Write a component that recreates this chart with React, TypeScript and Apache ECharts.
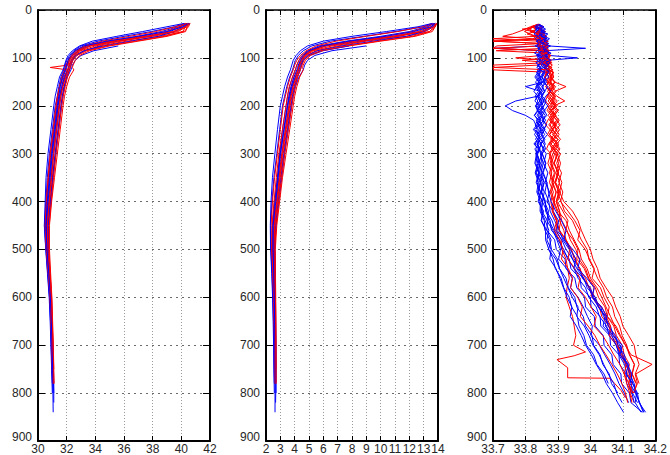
import React, { useEffect, useRef } from "react";
import * as echarts from "echarts";

const N = null;

// ---- Panels 1 & 2: shared depth grid ----
const depthGrid = [28, 35, 45, 55, 65, 75, 85, 95, 105, 115, 120, 125, 140, 160, 180, 200, 250, 300, 350, 400, 450, 500, 550, 600, 650, 700, 750, 780, 800, 820, 840];

const p1Blue: (number | null)[][] = [
  [40.5, 39.8, 38.6, 36.9, 35.0, 33.4, 32.7, 32.4, 32.2, 32.05, 32.0, 31.95, 31.75, 31.55, 31.4, 31.3, 31.1, 30.9, 30.75, 30.6, 30.5, 30.6, 30.72, 30.85, 30.9, 30.95, 31.0, 31.02, 31.04, 31.05, 31.06],
  [40.4, 40.0, 39.2, 37.8, 35.6, 33.6, 32.8, 32.5, 32.3, 32.2, 32.15, 32.1, 31.9, 31.7, 31.6, 31.5, 31.3, 31.1, 30.92, 30.76, 30.62, 30.68, 30.8, 30.9, 30.95, 31.0, 31.04, 31.05, N, N, N],
  [N, N, N, N, N, 35.6, 33.9, 33.0, 32.6, 32.4, 32.35, 32.3, 32.05, 31.8, 31.7, 31.6, 31.4, 31.2, 31.02, 30.86, 30.7, 30.74, 30.84, 30.94, 30.99, 31.04, 31.08, 31.1, 31.1, N, N],
  [40.3, 39.5, 37.9, 36.0, 34.2, 33.0, 32.5, 32.2, 32.0, 31.9, 31.85, 31.8, 31.6, 31.45, 31.35, 31.2, 31.0, 30.8, 30.65, 30.55, 30.45, 30.55, 30.68, 30.8, 30.87, 30.92, 30.97, 31.0, N, N, N],
  [40.6, 40.2, 39.5, 38.4, 36.5, 34.6, 33.2, 32.6, 32.4, 32.3, 32.25, 32.2, 32.0, 31.85, 31.75, 31.65, 31.45, 31.25, 31.05, 30.9, 30.72, 30.72, 30.8, 30.9, 30.96, 31.02, 31.06, 31.08, 31.1, 31.1, N],
  [N, N, N, N, N, 34.4, 33.3, 32.7, 32.4, 32.2, 32.15, 32.1, 31.85, 31.65, 31.5, 31.4, 31.2, 31.0, 30.85, 30.7, 30.58, 30.64, 30.75, 30.85, 30.92, 30.97, 31.0, 31.02, N, N, N],
  [40.2, 39.0, 37.3, 35.5, 33.8, 32.9, 32.4, 32.1, 31.95, 31.85, 31.8, 31.75, 31.5, 31.35, 31.2, 31.1, 30.9, 30.7, 30.56, 30.5, 30.44, 30.54, 30.66, 30.78, 30.85, 30.9, 30.95, 30.98, 31.0, N, N],
  [40.5, 40.1, 39.0, 37.0, 34.8, 33.2, 32.6, 32.3, 32.1, 32.0, 31.95, 31.9, 31.7, 31.55, 31.45, 31.35, 31.15, 30.95, 30.8, 30.65, 30.55, 30.62, 30.75, 30.86, 30.93, 30.98, 31.02, 31.04, N, N, N],
];

const p1Red: (number | null)[][] = [
  [40.6, 40.5, 40.2, 38.5, 36.2, 34.3, 33.2, 32.6, 32.4, 32.3, 32.25, 32.2, 32.0, 31.85, 31.7, 31.6, 31.4, 31.2, 31.0, 30.85, 30.7, 30.72, 30.82, 30.92, 30.98, 31.03, 31.08, 31.1, N, N, N],
  [40.5, 40.3, 39.8, 38.0, 35.4, 33.7, 32.9, 32.5, 32.3, 32.15, 32.1, 32.05, 31.8, 31.65, 31.5, 31.4, 31.2, 30.95, 30.8, 30.65, 30.55, 30.62, 30.75, 30.86, 30.93, 30.98, 31.02, 31.05, N, N, N],
  [40.4, 39.9, 38.9, 37.2, 35.2, 33.5, 32.8, 32.4, 32.2, 32.1, 30.85, 32.05, 31.9, 31.7, 31.55, 31.45, 31.25, 31.05, 30.9, 30.75, 30.62, 30.65, 30.78, 30.9, 30.96, 31.0, 31.04, 31.06, N, N, N],
  [40.5, 40.4, 40.3, 39.0, 37.0, 35.0, 33.6, 32.9, 32.6, 32.45, 32.4, 32.5, 32.2, 32.0, 31.85, 31.75, 31.55, 31.35, 31.15, 30.95, 30.8, 30.8, 30.88, 30.97, 31.02, 31.07, 31.1, N, N, N, N],
  [40.3, 39.6, 38.2, 36.4, 34.5, 33.2, 32.6, 32.3, 32.1, 31.95, 31.9, 31.85, 31.65, 31.5, 31.35, 31.25, 31.05, 30.85, 30.7, 30.58, 30.5, 30.58, 30.7, 30.82, 30.9, 30.95, 30.99, 31.02, N, N, N],
  [40.6, 40.4, 39.6, 37.6, 35.8, 34.0, 33.0, 32.55, 32.35, 32.2, 32.15, 32.1, 31.95, 31.75, 31.6, 31.5, 31.3, 31.1, 30.95, 30.8, 30.65, 30.68, 30.8, 30.9, 30.97, 31.02, 31.06, 31.08, N, N, N],
  [40.4, 40.2, 39.4, 37.5, 34.9, 33.3, 32.7, 32.35, 32.15, 32.0, 31.95, 31.9, 31.7, 31.52, 31.4, 31.3, 31.1, 30.9, 30.74, 30.6, 30.5, 30.58, 30.72, 30.84, 30.9, 30.96, 31.0, 31.03, N, N, N],
  [40.5, 40.3, 40.1, 38.8, 36.8, 34.8, 33.4, 32.7, 32.45, 32.3, 32.25, 32.2, 32.05, 31.9, 31.75, 31.65, 31.45, 31.25, 31.08, 30.92, 30.78, 30.76, 30.85, 30.95, 31.0, 31.05, 31.1, 31.12, N, N, N],
];

const p2Blue: (number | null)[][] = [
  [13.8, 13.2, 12.0, 10.0, 7.6, 5.7, 4.9, 4.5, 4.3, 4.15, 4.1, 4.05, 3.85, 3.65, 3.5, 3.4, 3.15, 2.95, 2.8, 2.62, 2.45, 2.45, 2.5, 2.55, 2.58, 2.6, 2.62, 2.63, 2.63, 2.63, 2.63],
  [13.8, 13.6, 12.8, 11.2, 8.6, 6.2, 5.1, 4.7, 4.5, 4.35, 4.3, 4.25, 4.05, 3.85, 3.7, 3.6, 3.35, 3.1, 2.9, 2.72, 2.55, 2.52, 2.56, 2.6, 2.62, 2.64, 2.66, 2.66, N, N, N],
  [N, N, N, N, N, 9.0, 6.6, 5.4, 4.9, 4.7, 4.65, 4.6, 4.3, 4.05, 3.9, 3.8, 3.55, 3.3, 3.1, 2.9, 2.7, 2.62, 2.64, 2.66, 2.68, 2.7, 2.7, 2.7, 2.7, N, N],
  [13.7, 13.0, 11.0, 8.8, 6.5, 5.2, 4.6, 4.25, 4.05, 3.95, 3.9, 3.85, 3.65, 3.45, 3.3, 3.15, 2.95, 2.75, 2.55, 2.42, 2.32, 2.35, 2.42, 2.48, 2.52, 2.55, 2.57, 2.58, N, N, N],
  [13.9, 13.7, 13.0, 11.8, 9.5, 7.3, 5.6, 4.9, 4.6, 4.5, 4.45, 4.4, 4.2, 4.0, 3.85, 3.75, 3.5, 3.25, 3.05, 2.85, 2.68, 2.6, 2.62, 2.64, 2.66, 2.67, 2.68, 2.68, 2.68, 2.67, N],
  [N, N, N, N, N, 7.8, 5.9, 5.0, 4.6, 4.4, 4.35, 4.3, 4.05, 3.8, 3.65, 3.5, 3.25, 3.0, 2.8, 2.6, 2.45, 2.45, 2.5, 2.55, 2.58, 2.6, 2.62, 2.62, N, N, N],
  [13.6, 12.6, 10.4, 8.0, 6.0, 4.9, 4.4, 4.1, 3.9, 3.8, 3.75, 3.7, 3.5, 3.3, 3.15, 3.0, 2.8, 2.62, 2.45, 2.35, 2.3, 2.32, 2.4, 2.46, 2.5, 2.53, 2.55, 2.57, 2.58, N, N],
  [13.8, 13.5, 12.3, 10.3, 7.8, 5.9, 5.0, 4.6, 4.4, 4.25, 4.2, 4.15, 3.95, 3.75, 3.6, 3.5, 3.25, 3.0, 2.85, 2.68, 2.5, 2.5, 2.54, 2.58, 2.6, 2.62, 2.64, 2.65, N, N, N],
];

const p2Red: (number | null)[][] = [
  [13.9, 13.8, 13.4, 11.8, 9.0, 7.0, 5.5, 4.8, 4.55, 4.45, 4.4, 4.35, 4.15, 3.95, 3.8, 3.7, 3.45, 3.2, 3.0, 2.8, 2.62, 2.56, 2.6, 2.63, 2.65, 2.67, 2.68, 2.68, N, N, N],
  [13.8, 13.7, 13.1, 11.2, 8.2, 6.2, 5.2, 4.7, 4.45, 4.3, 4.25, 4.2, 3.95, 3.75, 3.6, 3.5, 3.25, 3.0, 2.82, 2.65, 2.5, 2.48, 2.52, 2.57, 2.6, 2.62, 2.64, 2.65, N, N, N],
  [13.7, 13.3, 12.2, 10.4, 8.0, 6.0, 5.1, 4.65, 4.4, 4.3, 4.28, 4.25, 4.05, 3.85, 3.7, 3.6, 3.35, 3.1, 2.92, 2.74, 2.58, 2.54, 2.58, 2.62, 2.64, 2.66, 2.67, 2.67, N, N, N],
  [13.9, 13.8, 13.6, 12.4, 10.0, 7.8, 6.0, 5.1, 4.75, 4.6, 4.55, 4.6, 4.35, 4.15, 4.0, 3.9, 3.65, 3.4, 3.15, 2.95, 2.75, 2.65, 2.66, 2.68, 2.69, 2.7, 2.7, N, N, N, N],
  [13.6, 12.9, 11.2, 9.0, 6.9, 5.5, 4.8, 4.4, 4.15, 4.0, 3.95, 3.9, 3.7, 3.5, 3.35, 3.2, 3.0, 2.8, 2.6, 2.45, 2.35, 2.38, 2.45, 2.5, 2.54, 2.56, 2.58, 2.6, N, N, N],
  [13.9, 13.7, 12.9, 10.9, 8.8, 6.6, 5.3, 4.75, 4.5, 4.35, 4.3, 4.25, 4.1, 3.9, 3.75, 3.65, 3.4, 3.15, 2.97, 2.78, 2.6, 2.55, 2.58, 2.62, 2.64, 2.66, 2.67, 2.68, N, N, N],
  [13.8, 13.5, 12.6, 10.8, 7.9, 5.9, 5.0, 4.55, 4.3, 4.15, 4.1, 4.05, 3.85, 3.62, 3.5, 3.4, 3.15, 2.9, 2.72, 2.56, 2.42, 2.42, 2.48, 2.54, 2.57, 2.6, 2.62, 2.63, N, N, N],
  [13.9, 13.8, 13.4, 12.2, 9.8, 7.6, 5.8, 5.0, 4.65, 4.5, 4.45, 4.4, 4.2, 4.05, 3.9, 3.8, 3.55, 3.3, 3.08, 2.88, 2.7, 2.62, 2.64, 2.66, 2.68, 2.69, 2.7, 2.7, N, N, N],
];

// ---- Panel 3: salinity depth grid (top / mid / deep) ----
const salDepthTop = [30, 35, 40, 45, 50, 55, 60, 65, 70, 75, 80, 85, 90, 95, 100, 105, 110, 115, 120, 125, 130];
const salDepthMid = [140, 150, 160, 170, 180, 190, 200, 210, 220, 230, 240, 250, 260, 270, 280, 290, 300];
const salDepthDeep = [320, 340, 360, 380, 400, 420, 440, 460, 480, 500, 520, 540, 560, 580, 600, 620, 640, 660, 680, 700, 720, 740, 760, 780, 800, 820, 840];

const salBlueTop: (number | null)[][] = [
  [33.840, 33.845, 33.838, 33.852, 33.846, 33.858, 33.850, 33.862, 33.848, 33.840, 33.705, 33.852, 33.846, 33.858, 33.850, 33.855, 33.843, 33.850, 33.846, 33.852, 33.845],
  [33.838, 33.832, 33.845, 33.836, 33.850, 33.842, 33.856, 33.845, 33.860, 33.870, 33.985, 33.862, 33.855, 33.866, 33.858, 33.870, 33.860, 33.866, 33.855, 33.862, 33.856],
  [33.842, 33.850, 33.840, 33.860, 33.848, 33.866, 33.852, 33.870, 33.856, 33.866, 33.852, 33.872, 33.860, 33.875, 33.960, 33.868, 33.874, 33.860, 33.872, 33.864, 33.870],
  [33.836, 33.828, 33.836, 33.826, 33.838, 33.830, 33.842, 33.835, 33.845, 33.836, 33.848, 33.838, 33.846, 33.836, 33.844, 33.835, 33.845, 33.838, 33.846, 33.836, 33.842],
  [33.840, 33.848, 33.856, 33.846, 33.862, 33.852, 33.866, 33.856, 33.868, 33.858, 33.870, 33.860, 33.872, 33.862, 33.868, 33.858, 33.866, 33.856, 33.864, 33.855, 33.862],
  [33.840, 33.834, 33.842, 33.832, 33.844, 33.836, 33.848, 33.838, 33.850, 33.842, 33.852, 33.842, 33.850, 33.840, 33.852, 33.842, 33.850, 33.840, 33.848, 33.840, 33.846],
  [33.844, 33.838, 33.850, 33.842, 33.856, 33.845, 33.858, 33.848, 33.860, 33.850, 33.862, 33.850, 33.864, 33.852, 33.862, 33.850, 33.858, 33.848, 33.856, 33.846, 33.855],
  [33.839, 33.846, 33.831, 33.842, 33.853, 33.838, 33.829, 33.845, 33.851, 33.836, 33.844, 33.857, 33.840, 33.833, 33.848, 33.841, 33.852, 33.837, 33.843, 33.849, 33.834],
  [33.843, 33.851, 33.862, 33.848, 33.869, 33.858, 33.874, 33.861, 33.853, 33.877, 33.864, 33.858, 33.879, 33.866, 33.871, 33.859, 33.876, 33.868, 33.862, 33.874, 33.865],
  [33.841, 33.836, 33.847, 33.855, 33.842, 33.851, 33.863, 33.844, 33.857, 33.849, 33.838, 33.860, 33.852, 33.845, 33.856, 33.863, 33.849, 33.858, 33.851, 33.844, 33.859],
  [33.838, 33.829, 33.841, 33.835, 33.826, 33.839, 33.847, 33.833, 33.842, 33.830, 33.845, 33.836, 33.828, 33.843, 33.837, 33.849, 33.832, 33.841, 33.835, 33.846, 33.838],
  [33.842, 33.857, 33.846, 33.861, 33.853, 33.848, 33.865, 33.857, 33.872, 33.861, 33.855, 33.868, 33.874, 33.859, 33.866, 33.878, 33.862, 33.871, 33.858, 33.867, 33.873],
];
const salBlueMid: (number | null)[][] = [
  [33.842, 33.850, 33.838, 33.845, 33.838, 33.770, 33.738, 33.760, 33.800, 33.825, 33.832, 33.840, 33.835, 33.846, 33.838, 33.842, 33.835],
  [33.850, 33.858, 33.800, 33.846, 33.852, 33.844, 33.855, 33.846, 33.853, 33.842, 33.850, 33.845, 33.852, 33.840, 33.848, 33.843, 33.850],
  [33.858, 33.866, 33.852, 33.860, 33.848, 33.858, 33.846, 33.856, 33.845, 33.855, 33.846, 33.858, 33.850, 33.860, 33.848, 33.858, 33.852],
  [33.834, 33.842, 33.832, 33.840, 33.830, 33.838, 33.832, 33.840, 33.828, 33.838, 33.830, 33.836, 33.828, 33.838, 33.830, 33.836, 33.832],
  [33.852, 33.860, 33.850, 33.858, 33.848, 33.856, 33.850, 33.860, 33.852, 33.862, 33.852, 33.860, 33.848, 33.856, 33.846, 33.855, 33.846],
  [33.838, 33.846, 33.836, 33.845, 33.836, 33.844, 33.835, 33.845, 33.836, 33.846, 33.838, 33.848, 33.838, 33.846, 33.836, 33.845, 33.838],
  [33.845, 33.853, 33.843, 33.852, 33.842, 33.850, 33.840, 33.850, 33.840, 33.848, 33.838, 33.846, 33.836, 33.845, 33.835, 33.843, 33.836],
  [33.846, 33.831, 33.840, 33.852, 33.836, 33.829, 33.843, 33.838, 33.850, 33.833, 33.841, 33.828, 33.845, 33.837, 33.826, 33.842, 33.834],
  [33.871, 33.859, 33.867, 33.878, 33.862, 33.856, 33.869, 33.858, 33.866, 33.852, 33.864, 33.857, 33.868, 33.855, 33.861, 33.853, 33.864],
  [33.849, 33.841, 33.855, 33.847, 33.839, 33.852, 33.844, 33.836, 33.849, 33.857, 33.842, 33.851, 33.843, 33.838, 33.850, 33.841, 33.847],
  [33.829, 33.840, 33.834, 33.826, 33.838, 33.845, 33.831, 33.837, 33.827, 33.842, 33.835, 33.824, 33.839, 33.831, 33.843, 33.829, 33.836],
  [33.862, 33.855, 33.868, 33.859, 33.852, 33.864, 33.857, 33.849, 33.861, 33.854, 33.866, 33.851, 33.859, 33.847, 33.857, 33.862, 33.851],
];
const salBlueDeep: (number | null)[][] = [
  [33.846, 33.834, 33.848, 33.838, 33.852, 33.850, 33.868, 33.866, 33.890, 33.895, 33.922, 33.925, 33.952, 33.958, 33.982, 33.985, 34.012, 34.015, 34.040, 34.042, 34.066, 34.070, 34.094, 34.096, 34.120, 34.125, 34.160],
  [33.842, 33.852, 33.846, 33.858, 33.852, 33.866, 33.872, 33.888, 33.900, 33.918, 33.930, 33.950, 33.962, 33.985, 33.995, 34.018, 34.028, 34.050, 34.058, 34.080, 34.088, 34.105, 34.112, 34.126, 34.130, 34.145, N],
  [33.862, 33.855, 33.866, 33.860, 33.872, 33.876, 33.890, 33.905, 33.915, 33.935, 33.945, 33.968, 33.975, 34.000, 34.010, 34.032, 34.040, 34.062, 34.070, 34.092, 34.098, 34.115, 34.120, 34.135, 34.140, 34.152, 34.165],
  [33.838, 33.830, 33.840, 33.835, 33.846, 33.845, 33.858, 33.860, 33.875, 33.880, 33.898, 33.905, 33.925, 33.932, 33.952, 33.958, 33.978, 33.985, 34.005, 34.010, 34.030, 34.038, 34.058, 34.065, 34.085, N, N],
  [33.855, 33.848, 33.858, 33.850, 33.862, 33.862, 33.876, 33.880, 33.905, 33.912, 33.935, 33.940, 33.968, 33.972, 34.000, 34.002, 34.030, 34.032, 34.060, 34.062, 34.088, 34.090, 34.110, 34.112, 34.128, 34.135, N],
  [33.832, 33.842, 33.836, 33.846, 33.842, 33.852, 33.850, 33.862, 33.862, 33.872, 33.885, 33.892, 33.910, 33.918, 33.935, 33.942, 33.960, 33.965, 33.980, 33.988, 34.010, 34.020, 34.042, 34.055, N, N, N],
  [33.845, 33.840, 33.852, 33.848, 33.860, 33.865, 33.882, 33.892, 33.912, 33.925, 33.945, 33.958, 33.980, 33.990, 34.015, 34.025, 34.048, 34.055, 34.078, 34.085, 34.105, 34.110, 34.125, 34.130, 34.145, 34.150, 34.170],
  [33.829, 33.841, 33.833, 33.846, 33.839, 33.856, 33.848, 33.866, 33.879, 33.871, 33.893, 33.905, 33.918, 33.931, 33.944, 33.962, 33.958, 33.981, 33.996, 34.008, 34.027, 34.041, 34.055, 34.072, 34.081, 34.098, N],
  [33.856, 33.869, 33.861, 33.874, 33.866, 33.885, 33.902, 33.897, 33.921, 33.938, 33.955, 33.949, 33.978, 33.996, 34.008, 34.024, 34.045, 34.039, 34.066, 34.079, 34.092, 34.118, 34.109, 34.131, 34.142, 34.138, 34.156],
  [33.851, 33.843, 33.857, 33.849, 33.858, 33.871, 33.866, 33.884, 33.897, 33.908, 33.902, 33.927, 33.944, 33.939, 33.962, 33.978, 33.991, 34.006, 34.002, 34.028, 34.044, 34.061, 34.076, 34.088, 34.104, 34.118, N],
  [33.841, 33.832, 33.845, 33.839, 33.852, 33.848, 33.861, 33.872, 33.866, 33.879, 33.875, 33.894, 33.906, 33.917, 33.928, 33.943, 33.938, 33.957, 33.972, 33.985, 34.003, 34.018, 34.036, 34.049, 34.068, 34.084, 34.102],
  [33.863, 33.852, 33.866, 33.871, 33.879, 33.893, 33.911, 33.925, 33.918, 33.946, 33.968, 33.961, 33.989, 34.012, 34.005, 34.034, 34.051, 34.046, 34.071, 34.098, 34.091, 34.114, 34.128, 34.122, 34.139, 34.151, 34.163],
];

const salRedTop: (number | null)[][] = [
  [33.840, 33.826, 33.812, 33.828, 33.805, 33.830, 33.700, 33.840, 33.850, 33.842, 33.858, 33.848, 33.862, 33.852, 33.866, 33.858, 33.870, 33.862, 33.875, 33.866, 33.878],
  [33.838, 33.820, 33.835, 33.815, 33.840, 33.825, 33.848, 33.835, 33.852, 33.712, 33.700, 33.855, 33.868, 33.858, 33.872, 33.862, 33.876, 33.866, 33.880, 33.870, 33.884],
  [33.842, 33.830, 33.848, 33.836, 33.855, 33.842, 33.860, 33.848, 33.866, 33.852, 33.868, 33.856, 33.872, 33.860, 33.875, 33.864, 33.878, 33.840, 33.700, 33.702, 33.872],
  [33.840, 33.852, 33.842, 33.858, 33.846, 33.862, 33.850, 33.866, 33.855, 33.870, 33.858, 33.872, 33.862, 33.850, 33.770, 33.866, 33.878, 33.868, 33.882, 33.872, 33.886],
  [33.840, 33.835, 33.790, 33.822, 33.838, 33.828, 33.845, 33.702, 33.848, 33.838, 33.852, 33.842, 33.856, 33.846, 33.858, 33.850, 33.862, 33.852, 33.866, 33.856, 33.868],
  [33.838, 33.815, 33.800, 33.780, 33.760, 33.730, 33.820, 33.845, 33.835, 33.850, 33.840, 33.856, 33.846, 33.860, 33.850, 33.864, 33.855, 33.868, 33.858, 33.870, 33.862],
  [33.842, 33.856, 33.846, 33.862, 33.850, 33.866, 33.852, 33.870, 33.856, 33.872, 33.860, 33.710, 33.865, 33.878, 33.868, 33.880, 33.870, 33.883, 33.872, 33.885, 33.875],
  [33.841, 33.818, 33.833, 33.824, 33.846, 33.832, 33.856, 33.701, 33.852, 33.864, 33.857, 33.871, 33.862, 33.879, 33.866, 33.874, 33.882, 33.868, 33.881, 33.873, 33.887],
  [33.839, 33.828, 33.806, 33.823, 33.841, 33.833, 33.852, 33.844, 33.861, 33.849, 33.703, 33.866, 33.858, 33.872, 33.863, 33.869, 33.877, 33.865, 33.874, 33.881, 33.869],
  [33.843, 33.835, 33.851, 33.839, 33.858, 33.845, 33.863, 33.851, 33.870, 33.857, 33.866, 33.874, 33.861, 33.877, 33.869, 33.790, 33.873, 33.701, 33.704, 33.876, 33.883],
  [33.840, 33.822, 33.809, 33.797, 33.815, 33.831, 33.824, 33.842, 33.836, 33.851, 33.843, 33.857, 33.848, 33.861, 33.852, 33.866, 33.857, 33.869, 33.861, 33.872, 33.864],
];
const salRedMid: (number | null)[][] = [
  [33.870, 33.880, 33.872, 33.884, 33.874, 33.885, 33.876, 33.888, 33.878, 33.886, 33.876, 33.885, 33.875, 33.884, 33.874, 33.882, 33.873],
  [33.876, 33.888, 33.925, 33.890, 33.880, 33.892, 33.882, 33.895, 33.884, 33.896, 33.886, 33.898, 33.888, 33.900, 33.890, 33.902, 33.892],
  [33.880, 33.870, 33.884, 33.874, 33.888, 33.876, 33.890, 33.878, 33.892, 33.880, 33.894, 33.882, 33.896, 33.884, 33.898, 33.886, 33.900],
  [33.878, 33.890, 33.880, 33.894, 33.884, 33.898, 33.888, 33.900, 33.890, 33.904, 33.893, 33.905, 33.895, 33.908, 33.896, 33.906, 33.898],
  [33.860, 33.872, 33.862, 33.875, 33.865, 33.878, 33.868, 33.880, 33.870, 33.882, 33.872, 33.884, 33.874, 33.885, 33.875, 33.886, 33.876],
  [33.874, 33.866, 33.878, 33.868, 33.880, 33.870, 33.882, 33.872, 33.884, 33.874, 33.886, 33.876, 33.888, 33.878, 33.890, 33.880, 33.890],
  [33.886, 33.876, 33.888, 33.878, 33.890, 33.880, 33.892, 33.882, 33.894, 33.884, 33.895, 33.885, 33.896, 33.886, 33.897, 33.888, 33.898],
  [33.878, 33.891, 33.883, 33.876, 33.893, 33.885, 33.898, 33.879, 33.892, 33.901, 33.887, 33.895, 33.883, 33.899, 33.891, 33.884, 33.897],
  [33.883, 33.872, 33.887, 33.876, 33.869, 33.884, 33.893, 33.878, 33.887, 33.875, 33.891, 33.882, 33.874, 33.889, 33.879, 33.893, 33.884],
  [33.887, 33.876, 33.893, 33.882, 33.897, 33.921, 33.889, 33.901, 33.885, 33.896, 33.907, 33.893, 33.904, 33.889, 33.902, 33.894, 33.908],
  [33.859, 33.871, 33.864, 33.876, 33.868, 33.861, 33.874, 33.867, 33.879, 33.869, 33.862, 33.876, 33.868, 33.881, 33.871, 33.865, 33.878],
];
const salRedDeep: (number | null)[][] = [
  [33.882, 33.874, 33.884, 33.876, 33.886, 33.882, 33.895, 33.905, 33.925, 33.940, 33.955, 33.965, 33.985, 33.995, 34.015, 34.025, 34.045, 34.055, 34.075, 34.085, 34.100, 34.108, 34.122, 34.118, 34.130, N, N],
  [33.902, 33.894, 33.905, 33.898, 33.910, 33.920, 33.945, 33.958, 33.972, 33.990, 33.995, 34.010, 34.022, 34.040, 34.050, 34.068, 34.075, 34.090, 34.098, 34.112, 34.120, 34.135, 34.128, 34.140, N, N, N],
  [33.888, 33.900, 33.890, 33.904, 33.895, 33.905, 33.912, 33.928, 33.938, 33.955, 33.965, 33.985, 33.995, 34.015, 34.025, 34.045, 34.052, 34.072, 34.080, 34.098, 34.104, 34.120, 34.115, 34.128, 34.122, 34.135, N],
  [33.908, 33.900, 33.912, 33.905, 33.918, 33.945, 33.962, 33.972, 33.985, 34.000, 34.008, 34.022, 34.030, 34.048, 34.068, 34.078, 34.092, 34.100, 34.118, 34.135, 34.140, 34.150, 34.138, 34.145, 34.132, N, N],
  [33.886, 33.878, 33.888, 33.880, 33.890, 33.885, 33.898, 33.895, 33.910, 33.912, 33.925, 33.930, 33.935, 33.928, 33.925, 33.935, 33.945, 33.950, 33.955, 33.948, N, N, N, N, N, N, N],
  [33.880, 33.892, 33.884, 33.895, 33.888, 33.900, 33.925, 33.935, 33.950, 33.965, 33.972, 33.990, 34.000, 34.020, 34.035, 34.048, 34.062, 34.075, 34.090, 34.108, 34.125, 34.190, 34.140, 34.150, N, N, N],
  [33.888, 33.900, 33.892, 33.902, 33.895, 33.905, 33.905, 33.918, 33.925, 33.942, 33.950, 33.968, 33.978, 33.998, 34.005, 34.028, 34.035, 34.058, 34.065, 34.085, 34.092, 34.110, 34.105, 34.118, 34.125, N, N],
  [33.889, 33.902, 33.893, 33.908, 33.898, 33.915, 33.931, 33.924, 33.947, 33.962, 33.958, 33.981, 33.993, 34.011, 34.006, 34.035, 34.049, 34.062, 34.058, 34.081, 34.096, 34.112, 34.125, 34.118, 34.131, N, N],
  [33.876, 33.889, 33.881, 33.894, 33.886, 33.897, 33.909, 33.903, 33.924, 33.936, 33.931, 33.952, 33.968, 33.962, 33.985, 34.002, 34.018, 34.011, 34.038, 34.056, 34.072, 34.091, 34.104, 34.112, 34.121, 34.128, N],
  [33.896, 33.911, 33.903, 33.915, 33.908, 33.931, 33.952, 33.968, 33.961, 33.984, 33.997, 34.012, 34.005, 34.031, 34.042, 34.058, 34.052, 34.079, 34.093, 34.108, 34.121, 34.136, 34.129, 34.142, 34.136, N, N],
  [33.869, 33.881, 33.874, 33.886, 33.878, 33.884, 33.896, 33.889, 33.905, 33.916, 33.911, 33.932, 33.945, 33.939, 33.961, 33.975, 33.969, 33.993, 34.014, 34.029, 34.048, 34.066, 34.083, 34.097, 34.108, 34.115, N],
];
// deep tail of the 5th red salinity profile (irregular depths)
const salRedTailIndex = 4;
const salRedTailDepth = [714, 722, 730, 747, 768, 769, 780, 795, 810];
const salRedTailValue = [33.985, 33.950, 33.897, 33.930, 33.930, 34.060, 34.075, 34.095, 34.108];

// axis ranges
const p1Range = { min: 30, max: 42, interval: 2 };
const p2Range = { min: 2, max: 14, interval: 1 };
const p3Range = { min: 33.7, max: 34.2, interval: 0.1 };
const depthRange = { min: 0, max: 900, interval: 100 };

const BLUE = "#0000ff";
const RED = "#ff0000";

function zip(depths: number[], values: (number | null)[]): number[][] {
  const out: number[][] = [];
  const n = Math.min(depths.length, values.length);
  for (let i = 0; i < n; i++) {
    const v = values[i];
    if (v !== null && v !== undefined) out.push([v, depths[i]]);
  }
  return out;
}

export default function App() {
  const ref = useRef<HTMLDivElement>(null);
  useEffect(() => {
    if (!ref.current) return;
    const chart = echarts.init(ref.current, undefined, { renderer: "svg" });

    const grids = [
      { left: 38, top: 10, width: 172, height: 434 },
      { left: 266, top: 10, width: 172, height: 434 },
      { left: 493, top: 10, width: 170, height: 434 },
    ];
    const ranges = [p1Range, p2Range, p3Range];
    const labelStyle = { color: "#262626", fontSize: 12, fontFamily: "Liberation Sans, Arial, sans-serif" };

    const xAxis: any[] = [];
    const yAxis: any[] = [];
    ranges.forEach((r, i) => {
      xAxis.push({
        gridIndex: i, type: "value", min: r.min, max: r.max, interval: r.interval, position: "bottom",
        axisLine: { show: true, onZero: false, lineStyle: { color: "#000", width: 2 } },
        axisTick: { show: true, inside: true, length: 5, lineStyle: { color: "#000", width: 1 } },
        axisLabel: { ...labelStyle, margin: 2, formatter: (v: number) => String(Math.round(v * 10) / 10) },
        splitLine: { show: true, lineStyle: { color: "#9a9a9a", width: 1, type: [1, 2] } },
      });
      xAxis.push({
        gridIndex: i, type: "value", min: r.min, max: r.max, interval: r.interval, position: "top",
        axisLine: { show: true, onZero: false, lineStyle: { color: "#000", width: 1.5 } },
        axisTick: { show: true, inside: true, length: 5, lineStyle: { color: "#000", width: 1 } },
        axisLabel: { show: false },
        splitLine: { show: false },
      });
      yAxis.push({
        gridIndex: i, type: "value", inverse: true, ...depthRange, position: "left",
        axisLine: { show: true, onZero: false, lineStyle: { color: "#000", width: 2 } },
        axisTick: { show: true, inside: true, length: 7, lineStyle: { color: "#000", width: 1 } },
        axisLabel: {
          ...labelStyle, margin: 6,
          formatter: (v: number) => (v === depthRange.max ? `{hi|${v}}` : String(v)),
          rich: { hi: { ...labelStyle, lineHeight: 14, padding: [0, 0, 8, 0] } },
        },
        splitLine: { show: true, lineStyle: { color: "#6a6a6a", width: 1, type: [2, 4] } },
      });
      yAxis.push({
        gridIndex: i, type: "value", inverse: true, ...depthRange, position: "right",
        axisLine: { show: true, onZero: false, lineStyle: { color: "#000", width: 2 } },
        axisTick: { show: true, inside: true, length: 7, lineStyle: { color: "#000", width: 1 } },
        axisLabel: { show: false },
        splitLine: { show: false },
      });
    });

    const series: any[] = [];
    const addLine = (panel: number, data: number[][], color: string) => {
      series.push({
        type: "line", xAxisIndex: panel * 2, yAxisIndex: panel * 2, data,
        showSymbol: false, symbol: "none", silent: true,
        lineStyle: { color, width: 1 }, itemStyle: { color },
      });
    };

    const nP = Math.max(p1Blue.length, p1Red.length);
    for (let k = 0; k < nP; k++) {
      if (p1Blue[k]) addLine(0, zip(depthGrid, p1Blue[k]), BLUE);
      if (p1Red[k]) addLine(0, zip(depthGrid, p1Red[k]), RED);
    }
    for (let k = 0; k < nP; k++) {
      if (p2Blue[k]) addLine(1, zip(depthGrid, p2Blue[k]), BLUE);
      if (p2Red[k]) addLine(1, zip(depthGrid, p2Red[k]), RED);
    }
    const salDepth = [...salDepthTop, ...salDepthMid, ...salDepthDeep];
    const nS = Math.max(salBlueTop.length, salRedTop.length);
    for (let k = 0; k < nS; k++) {
      if (salRedTop[k]) {
        let d = zip(salDepth, [...salRedTop[k], ...salRedMid[k], ...salRedDeep[k]]);
        if (k === salRedTailIndex) d = d.concat(zip(salRedTailDepth, salRedTailValue));
        addLine(2, d, RED);
      }
      if (salBlueTop[k]) {
        addLine(2, zip(salDepth, [...salBlueTop[k], ...salBlueMid[k], ...salBlueDeep[k]]), BLUE);
      }
    }

    chart.setOption({
      animation: false,
      backgroundColor: "#ffffff",
      grid: grids,
      xAxis,
      yAxis,
      series,
    });
    return () => chart.dispose();
  }, []);

  return (
    <div
      ref={ref}
      style={{ position: "fixed", left: 0, top: 0, width: 670, height: 455, background: "#fff" }}
    />
  );
}
